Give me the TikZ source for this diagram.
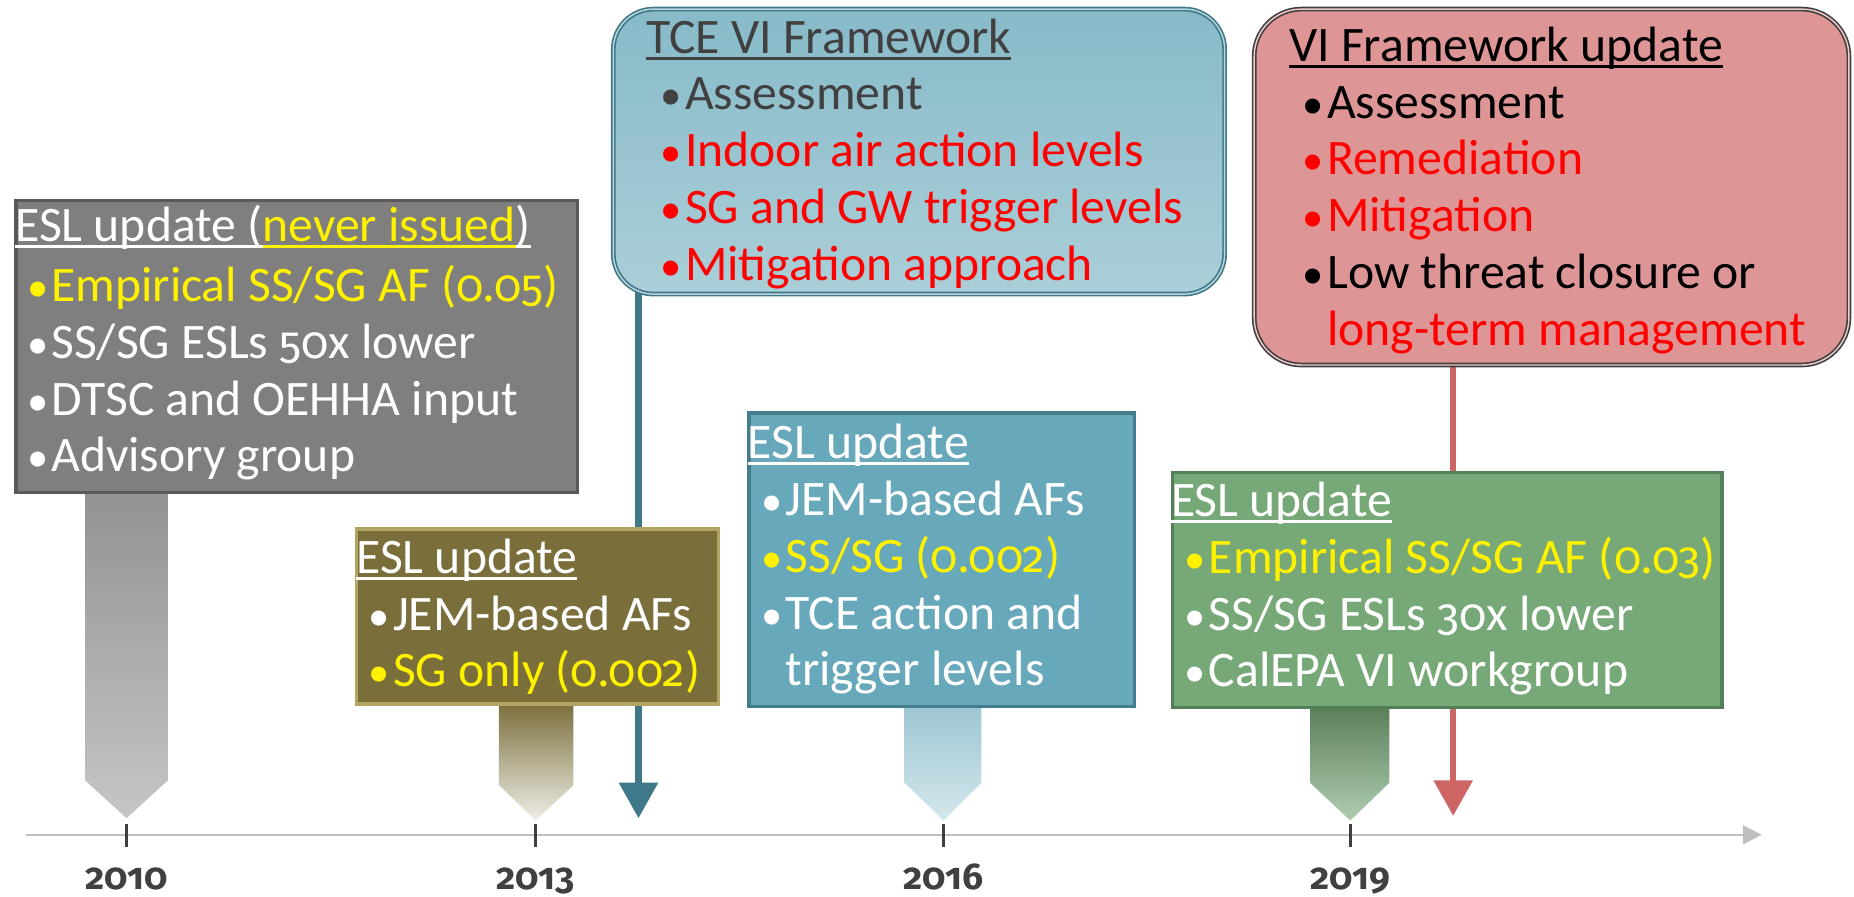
\documentclass[tikz,border=0pt]{standalone}
\usepackage{fontspec}
\setmainfont{Carlito}
\newfontfamily\oldfig{Fira Sans}[Numbers=OldStyle, Scale=MatchLowercase]
\usepackage{tikz}
\usetikzlibrary{arrows.meta}

\definecolor{axisgray}{HTML}{BFBFBF}
\definecolor{tickgray}{HTML}{404040}
\definecolor{txtgray}{HTML}{404040}
\definecolor{grayfill}{HTML}{7F7F7F}
\definecolor{grayline}{HTML}{595959}
\definecolor{olivefill}{HTML}{7A6E3A}
\definecolor{oliveline}{HTML}{B3A461}
\definecolor{tcetop}{HTML}{87BAC9}
\definecolor{tcebot}{HTML}{AACFD8}
\definecolor{tceline}{HTML}{3F7888}
\definecolor{tealfill}{HTML}{67A8BA}
\definecolor{tealline}{HTML}{447D8D}
\definecolor{pinkfill}{HTML}{DE9595}
\definecolor{pinkline}{HTML}{404040}
\definecolor{redarrow}{HTML}{CD6565}
\definecolor{greenfill}{HTML}{77A877}
\definecolor{greenline}{HTML}{527F58}

% underline with a rule just under the baseline
\newcommand\undl[1]{\setbox0\hbox{#1}\rlap{\rule[-0.13em]{\wd0}{0.055em}}\box0}
% bullet item in a given colour
\newcommand\itm[2]{\textcolor{#1}{\makebox[10.5pt][c]{\fontsize{18pt}{18pt}\selectfont\textbullet}\hspace{0.5pt}#2}}
% old style figures
\newcommand\fig[1]{{\oldfig #1}}

\tikzset{
  txt/.style={anchor=base west, inner sep=0pt, font=\fontsize{21pt}{24pt}\selectfont},
  year/.style={anchor=base, inner sep=0pt, text=txtgray, font=\fontsize{17.5pt}{18pt}\selectfont\oldfig\bfseries},
  tick/.style={draw=tickgray, line width=1.3pt},
  flatbox/.style={anchor=north west, inner sep=0pt, line width=1.5pt},
}

\begin{document}
\begin{tikzpicture}[x=0.5pt,y=0.5pt,yscale=-1]
\useasboundingbox (0,0) rectangle (1568,758);

%Time axis
\coordinate (axs) at (22,706);
\coordinate (axe) at (1490,706);
\draw [axisgray, line width=1pt, -{Triangle[width=8pt,length=8pt]}] (axs) -- (axe);
\foreach \x/\yr in {107/2010, 453/2013, 798/2016, 1142/2019}{
  \draw [tick] (\x,697) -- (\x,716);
  \node [year] (yr\yr) at (\x,752) {\yr};
}

%Shape: stems under the boxes
\shade [top color=grayfill!85!white, bottom color=gray!45] (72,415) -- (142,415) -- (142,660) -- (107,692) -- (72,660) -- cycle;
\shade [top color=olivefill, middle color=olivefill!60!white, bottom color=olivefill!12!white] (422,594) -- (485,594) -- (485,664) -- (453,694) -- (422,664) -- cycle;
\shade [top color=tealfill!65!white, bottom color=tealfill!28!white] (765,596) -- (830,596) -- (830,662) -- (798,694) -- (765,662) -- cycle;
\shade [top color=greenfill!75!black, middle color=greenfill!62!white, bottom color=greenfill!58!white] (1108,597) -- (1175,597) -- (1175,662) -- (1142,694) -- (1108,662) -- cycle;

%Straight Lines: framework arrows
\coordinate (tceend) at (540,692);
\coordinate (vfend) at (1229,690);
\draw [tceline, line width=2.6pt, -{Triangle[width=16pt,length=15pt]}] (540,200) -- (tceend);
\draw [redarrow, line width=2.6pt, -{Triangle[width=16pt,length=15pt]}] (1229,260) -- (vfend);

%Shape: Rectangle, 2010
\node [flatbox, fill=grayfill, draw=grayline, minimum width=237.5pt, minimum height=123.5pt] (b2010) at (12,168) {};
%Shape: Rectangle, 2013
\node [flatbox, fill=olivefill, draw=oliveline, minimum width=153pt, minimum height=74pt] (b2013) at (300,446) {};
%Shape: Rounded Rect, TCE framework
\node [flatbox, rounded corners=17pt, top color=tcetop, bottom color=tcebot, draw=tceline, double=tcetop!60!white, double distance=0.6pt, line width=0.7pt, minimum width=258.5pt, minimum height=120.5pt] (btce) at (518,7) {};
%Shape: Rectangle, 2016
\node [flatbox, fill=tealfill, draw=tealline, minimum width=163pt, minimum height=124pt] (b2016) at (632,348) {};
%Shape: Rounded Rect, VI framework update
\node [flatbox, rounded corners=20pt, fill=pinkfill, draw=pinkline, double=pinkfill!50!white, double distance=0.6pt, line width=0.7pt, minimum width=251.5pt, minimum height=150.5pt] (bvf) at (1060,7) {};
%Shape: Rectangle, 2019
\node [flatbox, fill=greenfill, draw=greenline, minimum width=232.5pt, minimum height=99.5pt] (b2019) at (990,398) {};

% Text Node
\node [txt, text=white] (t10) at (12.5,204) {\undl{ESL update (}\textcolor{yellow}{\undl{never issued}}\undl{)}};
\node [txt] (t10a) at (21,255) {\itm{yellow}{Empirical SS/SG AF (\fig{0.05})}};
\node [txt] (t10b) at (21,303) {\itm{white}{SS/SG ESLs \fig{50}x lower}};
\node [txt] (t10c) at (21,351) {\itm{white}{DTSC and OEHHA input}};
\node [txt] (t10d) at (21,399) {\itm{white}{Advisory group}};
% Text Node
\node [txt, text=white] (t13) at (301,485) {\undl{ESL update}};
\node [txt] (t13a) at (310,533) {\itm{white}{JEM-based AFs}};
\node [txt] (t13b) at (310,581) {\itm{yellow}{SG only (\fig{0.002})}};
% Text Node
\node [txt, text=txtgray] (ttce) at (546,45) {\undl{TCE VI Framework}};
\node [txt] (ttcea) at (557,93) {\itm{txtgray}{Assessment}};
\node [txt] (ttceb) at (557,141) {\itm{red}{Indoor air action levels}};
\node [txt] (ttcec) at (557,189) {\itm{red}{SG and GW trigger levels}};
\node [txt] (ttced) at (557,237) {\itm{red}{Mitigation approach}};
% Text Node
\node [txt, text=white] (t16) at (632,388) {\undl{ESL update}};
\node [txt] (t16a) at (642,436) {\itm{white}{JEM-based AFs}};
\node [txt] (t16b) at (642,484) {\itm{yellow}{SS/SG (\fig{0.002})}};
\node [txt] (t16c) at (642,532) {\itm{white}{TCE action and}};
\node [txt, text=white] (t16d) at (642,580) {\hspace{11pt}trigger levels};
% Text Node
\node [txt, text=black] (tvf) at (1090,52) {\undl{VI Framework update}};
\node [txt] (tvfa) at (1100,100) {\itm{black}{Assessment}};
\node [txt] (tvfb) at (1100,148) {\itm{red}{Remediation}};
\node [txt] (tvfc) at (1100,196) {\itm{red}{Mitigation}};
\node [txt] (tvfd) at (1100,244) {\itm{black}{Low threat closure or}};
\node [txt, text=red] (tvfe) at (1100,292) {\hspace{11pt}long-term management};
% Text Node
\node [txt, text=white] (t19) at (990,437) {\undl{ESL update}};
\node [txt] (t19a) at (1000,485) {\itm{yellow}{Empirical SS/SG AF (\fig{0.03})}};
\node [txt] (t19b) at (1000,533) {\itm{white}{SS/SG ESLs \fig{30}x lower}};
\node [txt] (t19c) at (1000,581) {\itm{white}{CalEPA VI workgroup}};

\end{tikzpicture}
\end{document}
